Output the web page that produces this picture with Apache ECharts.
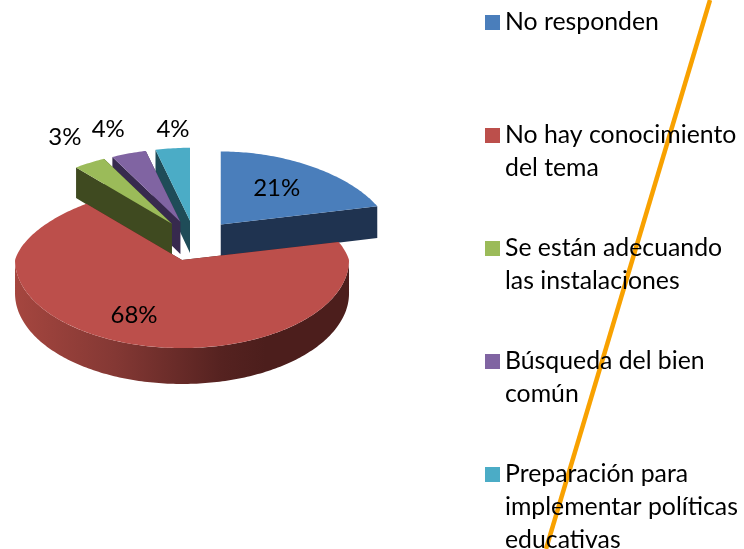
<!DOCTYPE html>
<html>
<head>
<meta charset="utf-8">
<style>
  html, body { margin: 0; padding: 0; background: #fff; }
  #chart { width: 744px; height: 549px; }
</style>
</head>
<body>
<div id="chart"></div>
<script src="https://cdn.jsdelivr.net/npm/echarts@6/dist/echarts.min.js"></script>
<script>
// datos
const categories = ['No responden', 'No hay conocimiento', 'Se están adecuando', 'Búsqueda del bien', 'Preparación para']
const secondLines = [['', ''], ['del tema', ''], ['las instalaciones', ''], ['común', ''], ['implementar políticas', 'educativas']]
const values = [21, 68, 3.4, 3.8, 3.8]
const topColors = ['#4a7ebb', '#bc4f4b', '#9bbb59', '#8064a2', '#4bacc6']
const sideColors = ['#1f3350', '#4c1e1c', '#3f4a20', '#372a4e', '#1f4c58']
const layerOrder = [2, 6, 5, 4, 3]
// linea naranja que cruza la leyenda
const lineX = [710, 546]
const lineY = [0, 549]

// pastel 3D: centro, radios de la elipse y separacion de las porciones
const cx = 195
const cy = 239
const rx = 167
const ryBack = 73
const ryFront = 88
const explode = 42
const narrowBack = 0.13
const labelShift = [[56, -36], [-48, 55], [-107, -86], [-72, -93], [-17, -92]]

const total = values.reduce((a, b) => a + b, 0)
const toRad = deg => deg * Math.PI / 180

// proyecta un angulo (horario desde arriba) sobre la elipse; el fondo se estrecha por la perspectiva
function project(ox, oy, deg) {
  const c = Math.cos(toRad(deg))
  const width = c > 0 ? rx * (1 - narrowBack * c) : rx
  return [ox + width * Math.sin(toRad(deg)), oy - c * (c > 0 ? ryBack : ryFront)]
}
// la profundidad crece hacia el frente
function lower(p) {
  return [p[0], p[1] + 30 + (p[1] - 150) * 0.03]
}
function arc(ox, oy, from, to) {
  const pts = []
  for (let a = from; a < to; a += 1) pts.push(project(ox, oy, a))
  pts.push(project(ox, oy, to))
  return pts
}
function poly(points, fill) {
  return { type: 'polygon', shape: { points: points }, style: { fill: fill } }
}

function renderSlice(params, api) {
  const i = params.seriesIndex
  const before = values.slice(0, i).reduce((a, b) => a + b, 0)
  const start = before / total * 360
  const end = start + api.value(0) / total * 360
  const mid = (start + end) / 2
  const midCos = Math.cos(toRad(mid))
  const ox = cx + explode * Math.sin(toRad(mid))
  const oy = cy - explode * midCos * (midCos > 0 ? ryBack / rx : ryFront / rx)
  const apex = [ox, oy]
  const edge = arc(ox, oy, start, end)
  const first = edge[0]
  const last = edge[edge.length - 1]
  const children = []

  // caras de corte
  children.push(poly([apex, last, lower(last), lower(apex)], sideColors[i]))
  children.push(poly([apex, first, lower(first), lower(apex)], sideColors[i]))

  // pared exterior, solo la parte que mira al frente
  const wallFrom = Math.max(start, 90)
  const wallTo = Math.min(end, 270)
  if (wallTo > wallFrom) {
    const wall = arc(ox, oy, wallFrom, wallTo)
    children.push(poly(wall.concat(wall.map(lower).reverse()), new echarts.graphic.LinearGradient(0, 0, 1, 0, [
      { offset: 0, color: '#a5463f' },
      { offset: 0.3, color: '#843834' },
      { offset: 0.62, color: '#552220' },
      { offset: 0.75, color: '#4c1e1c' },
      { offset: 1, color: '#4c1e1c' }
    ])))
  }

  // cara superior
  children.push(poly([apex].concat(edge), topColors[i]))

  children.push({
    type: 'text',
    x: ox + labelShift[i][0],
    y: oy + labelShift[i][1],
    style: {
      text: Math.round(api.value(0)) + '%',
      fill: '#000',
      font: '24px Lato',
      align: 'center',
      verticalAlign: 'middle'
    }
  })
  return { type: 'group', children: children }
}

const sliceSeries = categories.map((name, i) => ({
  type: 'custom',
  name: name,
  coordinateSystem: 'none',
  z: layerOrder[i],
  silent: true,
  itemStyle: { color: topColors[i] },
  data: [[values[i]]],
  renderItem: renderSlice
}))

const chart = echarts.init(document.getElementById('chart'))
chart.setOption({
  animation: false,
  color: topColors,
  grid: { left: 0, right: 0, top: 0, bottom: 0 },
  xAxis: { type: 'value', min: 0, max: 744, show: false },
  yAxis: { type: 'value', min: 0, max: 549, inverse: true, show: false },
  legend: {
    orient: 'vertical',
    left: 485,
    top: -60,
    height: 1000,
    padding: 0,
    itemWidth: 15,
    itemHeight: 15,
    itemGap: -52,
    icon: 'rect',
    selectedMode: false,
    data: categories,
    // cinco renglones por entrada con el texto en el renglon central: el icono queda junto a la primera linea
    formatter: name => {
      const i = categories.indexOf(name)
      return [' ', ' ', name, secondLines[i][0] || ' ', secondLines[i][1] || ' '].join('\n')
    },
    textStyle: { color: '#000', fontFamily: 'Lato', fontSize: 24.8, lineHeight: 33 }
  },
  series: sliceSeries.concat([{
    type: 'line',
    silent: true,
    z: 1,
    symbol: 'none',
    lineStyle: { color: '#f8a100', width: 4.5 },
    data: lineX.map((x, i) => [x, lineY[i]])
  }])
})
</script>
</body>
</html>
